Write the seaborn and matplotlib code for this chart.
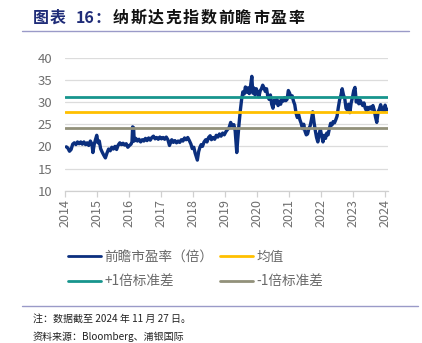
import matplotlib
matplotlib.use("Agg")
import matplotlib.pyplot as plt
import seaborn as sns
import pandas as pd
from matplotlib.lines import Line2D

# ---- data (axis position in years, forward P/E) ----
x_pos = [2014.05, 2014.1, 2014.15, 2014.2, 2014.25, 2014.3, 2014.35, 2014.4, 2014.45, 2014.5,
         2014.55, 2014.6, 2014.65, 2014.7, 2014.75, 2014.8, 2014.85, 2014.88, 2014.92, 2014.96,
         2015.0, 2015.04, 2015.08, 2015.12, 2015.17, 2015.22, 2015.27, 2015.32, 2015.37, 2015.42,
         2015.47, 2015.52, 2015.57, 2015.62, 2015.67, 2015.72, 2015.77, 2015.82, 2015.87, 2015.92,
         2015.97, 2016.02, 2016.07, 2016.1, 2016.12, 2016.15, 2016.17, 2016.22, 2016.27, 2016.32,
         2016.37, 2016.42, 2016.47, 2016.52, 2016.57, 2016.62, 2016.67, 2016.72, 2016.77, 2016.82,
         2016.87, 2016.92, 2016.97, 2017.02, 2017.07, 2017.12, 2017.17, 2017.22, 2017.27, 2017.3,
         2017.34, 2017.39, 2017.44, 2017.49, 2017.54, 2017.59, 2017.64, 2017.69, 2017.74, 2017.79,
         2017.84, 2017.89, 2017.94, 2017.98, 2018.03, 2018.07, 2018.1, 2018.14, 2018.18, 2018.22,
         2018.26, 2018.3, 2018.35, 2018.4, 2018.44, 2018.49, 2018.54, 2018.58, 2018.63, 2018.68,
         2018.73, 2018.78, 2018.83, 2018.88, 2018.93, 2018.98, 2019.03, 2019.08, 2019.13, 2019.18,
         2019.23, 2019.28, 2019.32, 2019.35, 2019.37, 2019.4, 2019.44, 2019.48, 2019.52, 2019.56,
         2019.6, 2019.64, 2019.68, 2019.72, 2019.76, 2019.8, 2019.84, 2019.87, 2019.9, 2019.94,
         2019.98, 2020.02, 2020.06, 2020.1, 2020.14, 2020.18, 2020.22, 2020.26, 2020.3, 2020.34,
         2020.38, 2020.42, 2020.46, 2020.5, 2020.54, 2020.58, 2020.62, 2020.66, 2020.7, 2020.74,
         2020.78, 2020.82, 2020.86, 2020.9, 2020.94, 2020.98, 2021.02, 2021.06, 2021.1, 2021.14,
         2021.18, 2021.22, 2021.26, 2021.3, 2021.34, 2021.38, 2021.42, 2021.46, 2021.5, 2021.54,
         2021.58, 2021.62, 2021.66, 2021.7, 2021.74, 2021.78, 2021.82, 2021.86, 2021.9, 2021.94,
         2021.98, 2022.02, 2022.06, 2022.1, 2022.14, 2022.18, 2022.22, 2022.26, 2022.3, 2022.34,
         2022.38, 2022.42, 2022.46, 2022.5, 2022.54, 2022.58, 2022.62, 2022.66, 2022.7, 2022.74,
         2022.78, 2022.82, 2022.86, 2022.9, 2022.94, 2022.98, 2023.02, 2023.06, 2023.1, 2023.14,
         2023.18, 2023.22, 2023.26, 2023.3, 2023.34, 2023.38, 2023.42, 2023.46, 2023.5, 2023.54,
         2023.58, 2023.62, 2023.66, 2023.7, 2023.74, 2023.78, 2023.82, 2023.86, 2023.9, 2023.94,
         2023.98, 2024.0, 2024.03, 2024.07]
pe_values = [19.9, 19.6, 18.9, 19.3, 20.5, 20.8, 20.4, 21.0, 20.6, 21.0,
             20.5, 21.0, 20.4, 20.8, 20.2, 21.2, 20.5, 18.6, 20.4, 21.5,
             22.5, 20.8, 21.2, 19.5, 18.7, 18.0, 17.4, 18.5, 19.4, 19.0,
             19.8, 19.4, 20.0, 19.3, 20.3, 20.8, 20.4, 20.7, 20.3, 20.6,
             19.8, 20.2, 20.5, 21.0, 24.4, 24.2, 21.2, 21.8, 21.2, 21.6,
             21.0, 21.5, 21.2, 21.8, 21.3, 21.9, 21.4, 22.0, 22.3, 21.7,
             22.0, 21.6, 22.1, 21.7, 22.0, 21.6, 22.1, 21.5, 20.2, 20.8,
             21.5, 20.9, 21.3, 20.8, 21.2, 20.9, 21.5, 21.2, 21.9, 21.5,
             22.0, 21.3, 20.5, 19.5, 19.8, 18.5, 17.8, 16.9, 18.8, 19.8,
             20.4, 20.0, 21.0, 21.5, 21.0, 22.0, 22.4, 21.5, 22.0, 21.6,
             22.5, 22.1, 22.8, 22.3, 23.0, 22.6, 23.3, 23.8, 24.2, 25.4,
             24.6, 24.9, 23.5, 20.5, 18.6, 21.5, 25.0, 28.0, 30.5, 32.3,
             31.8, 33.4, 32.2, 33.2, 31.9, 33.6, 35.8, 32.0, 33.2, 31.6,
             33.0, 32.1, 31.2, 32.5, 33.0, 33.8, 33.2, 32.4, 33.0, 31.2,
             30.6, 31.6, 29.5, 28.6, 30.4, 29.8, 30.6, 29.2, 30.2, 29.5,
             30.8, 30.2, 31.0, 30.3, 30.6, 32.6, 32.0, 31.0, 31.4, 30.2,
             29.4, 27.5, 26.5, 27.2, 26.0, 25.2, 24.0, 25.0, 23.4, 22.6,
             22.8, 24.0, 24.6, 26.0, 27.8, 25.5, 23.6, 22.0, 21.0, 22.8,
             23.8, 22.4, 21.0, 22.5, 21.8, 23.0, 22.6, 24.0, 25.2, 24.8,
             25.6, 25.3, 26.0, 26.8, 28.8, 30.5, 31.5, 33.0, 31.6, 30.8,
             28.6, 28.2, 29.5, 27.6, 29.8, 31.0, 32.6, 33.3, 30.0, 30.8,
             29.6, 30.4, 29.8, 29.2, 29.8, 28.6, 28.0, 28.8, 28.4, 28.9,
             28.4, 29.2, 28.2, 26.6, 25.4, 27.8, 28.4, 29.4, 28.2, 28.6,
             27.9, 29.3, 28.4, 28.3]
mean_pe = 27.7
plus1_sd = 31.2
minus1_sd = 24.2
year_ticks = list(range(2014, 2025))
labels = ["前瞻市盈率（倍）", "均值", "+1倍标准差", "-1倍标准差"]
title_a = ["图", "表", "16", "："]
title_b = "纳斯达克指数前瞻市盈率"
note_1 = "注：数据截至 2024 年 11 月 27 日。"
note_2 = "资料来源：Bloomberg、浦银国际"

# ---- style ----
sns.set_theme(style="white")
plt.rcParams['font.family'] = ['Noto Sans CJK SC', 'DejaVu Sans']

C_MAIN = "#0B2F7E"
C_MEAN = "#FFC000"
C_PLUS = "#17958D"
C_MINUS = "#92917A"
C_TICK = "#6F6F6F"
C_GRID = "#DCDCDC"

W, H = 422, 343
fig = plt.figure(figsize=(W / 100, H / 100), dpi=100)
ax = fig.add_axes([64.7 / W, 1 - 190.7 / H, (388 - 64.7) / W, (190.7 - 57.7) / H])

df = pd.DataFrame({"x": x_pos, "pe": pe_values})
sns.lineplot(data=df, x="x", y="pe", ax=ax, color=C_MAIN, lw=2.4, zorder=2)
ax.axhline(plus1_sd, color=C_PLUS, lw=2.0, zorder=3)
ax.axhline(mean_pe, color=C_MEAN, lw=2.0, zorder=3)
ax.axhline(minus1_sd, color=C_MINUS, lw=2.0, zorder=3)

ax.set_xlim(2014, 2024.09)
ax.set_ylim(10, 40)
ax.set_yticks([10, 15, 20, 25, 30, 35, 40])
ax.set_xticks(year_ticks)
ax.set_xticklabels([str(y) for y in year_ticks], rotation=90)
ax.set_xlabel("")
ax.set_ylabel("")
ax.grid(axis="y", color=C_GRID, lw=0.9)
ax.grid(axis="x", visible=False)
for s in ["top", "right", "left"]:
    ax.spines[s].set_visible(False)
ax.spines["bottom"].set_color("#D0D0D0")
ax.spines["bottom"].set_linewidth(0.9)
ax.tick_params(axis="y", colors=C_TICK, labelsize=9.5, length=0, pad=9)
ax.tick_params(axis="x", colors="#D0D0D0", labelcolor=C_TICK, labelsize=9,
               length=4, width=0.9, direction="out", bottom=True, pad=2)

# legend
handles = [Line2D([], [], color=C_MAIN, lw=2.0),
           Line2D([], [], color=C_PLUS, lw=2.0),
           Line2D([], [], color=C_MEAN, lw=2.0),
           Line2D([], [], color=C_MINUS, lw=2.0)]
leg_labels = [labels[0], labels[2], labels[1], labels[3]]
leg = fig.legend(handles, leg_labels, ncol=2, frameon=False,
                 loc="upper left", bbox_to_anchor=(56 / W, 1 - 238 / H),
                 fontsize=9.8, handlelength=2.4, handletextpad=0.25,
                 columnspacing=0.5, labelspacing=0.75)
for t in leg.get_texts():
    t.set_color("#6A6A6A")

# title (individually spaced characters)
title_a_x = [33, 50, 76, 95]
for ch, xx in zip(title_a, title_a_x):
    fig.text(xx / W, 1 - 18 / H, ch, fontsize=11.5, fontweight="bold",
             color="#1F2C78", va="center", ha="left")
for i, ch in enumerate(title_b):
    fig.text((113 + i * 17.5) / W, 1 - 18 / H, ch, fontsize=11.5, fontweight="bold",
             color="#111111", va="center", ha="left")
fig.add_artist(Line2D([22 / W, 409 / W], [1 - 31 / H, 1 - 31 / H],
                      color="#9A9AC8", lw=1.0, transform=fig.transFigure))
fig.add_artist(Line2D([22 / W, 418 / W], [1 - 305.7 / H, 1 - 305.7 / H],
                      color="#9A9AC8", lw=1.0, transform=fig.transFigure))

fig.text(33 / W, 1 - 319 / H, note_1, fontsize=7.2, color="#222222", va="center")
fig.text(33 / W, 1 - 337 / H, note_2, fontsize=7.2, color="#222222", va="center")

fig.savefig("out.png", dpi=100)
